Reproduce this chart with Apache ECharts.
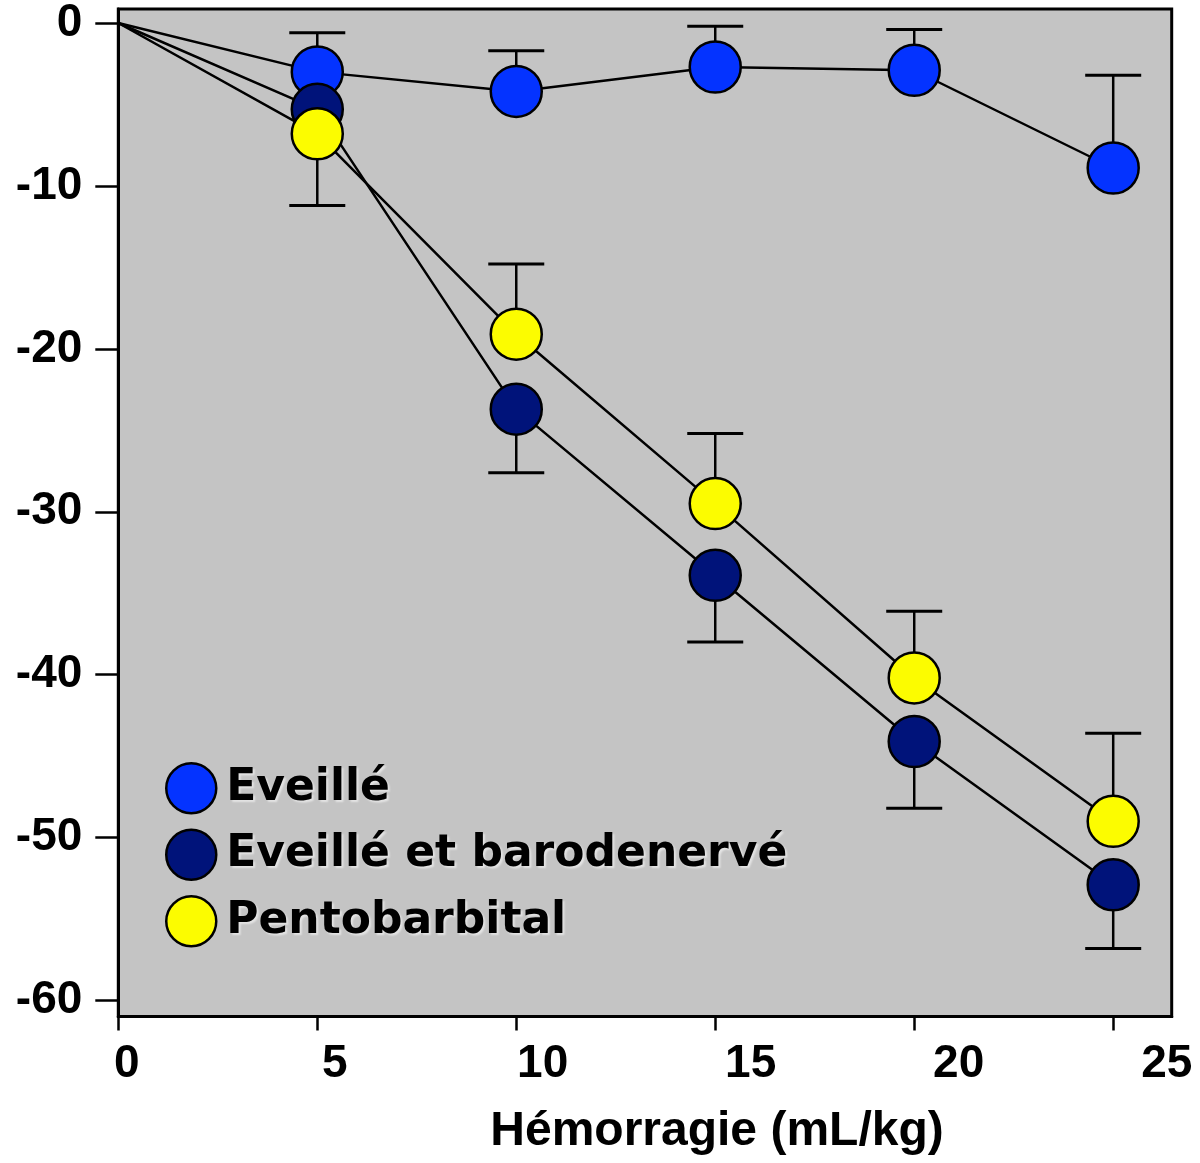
<!DOCTYPE html>
<html>
<head>
<meta charset="utf-8">
<title>Hémorragie</title>
<script src="https://cdn.jsdelivr.net/npm/echarts@6/dist/echarts.min.js"></script>
<style>
  html, body { margin: 0; padding: 0; background: #fff; }
  #chart { width: 1200px; height: 1163px; }
</style>
</head>
<body>
<div id="chart"></div>
<script>
// hemorrhage volume (mL/kg), first point is the common origin
const doses = [0, 5, 10, 15, 20, 25];
const xTicks = [0, 5, 10, 15, 20, 25];
const yTicks = [0, -10, -20, -30, -40, -50, -60];

const seriesNames = ['Eveillé', 'Eveillé et barodenervé', 'Pentobarbital'];

const eveille = [0, -3.0, -4.2, -2.7, -2.9, -8.9];
const eveilleErr = [null, 2.4, 2.5, 2.5, 2.5, 5.7];

const baro = [0, -5.3, -23.7, -33.9, -44.1, -52.9];
const baroErr = [null, 5.9, 3.9, 4.1, 4.1, 3.9];

const pento = [0, -6.8, -19.1, -29.5, -40.2, -49.0];
const pentoErr = [null, null, 4.3, 4.3, 4.1, 5.4];

const colors = ['#0433ff', '#00137a', '#fcfc00'];
const font = '"Liberation Sans", Arial, sans-serif';

const chart = echarts.init(document.getElementById('chart'));

const lineData = values =>
  values.map((v, i) => (i === 0
    ? { value: [doses[i], v], symbol: 'none' }
    : [doses[i], v]));

// dir: 1 = bar drawn upward, -1 = downward
const errData = (values, errs, dir) => {
  const out = [];
  values.forEach((v, i) => {
    if (errs[i] != null) out.push([doses[i], v, v + dir * errs[i]]);
  });
  return out;
};

const renderErrorBar = (params, api) => {
  const p0 = api.coord([api.value(0), api.value(1)]);
  const p1 = api.coord([api.value(0), api.value(2)]);
  const half = 28;
  return {
    type: 'group',
    children: [
      {
        type: 'line',
        shape: { x1: p0[0], y1: p0[1], x2: p1[0], y2: p1[1] },
        style: { stroke: '#000', lineWidth: 2.5 },
      },
      {
        type: 'line',
        shape: { x1: p1[0] - half, y1: p1[1], x2: p1[0] + half, y2: p1[1] },
        style: { stroke: '#000', lineWidth: 3 },
      },
    ],
  };
};

const lineSeries = (name, values, color) => ({
  name,
  type: 'line',
  z: 3,
  data: lineData(values),
  symbol: 'circle',
  symbolSize: 51,
  lineStyle: { color: '#000', width: 2.5 },
  itemStyle: { color, borderColor: '#000', borderWidth: 2.5 },
  emphasis: { disabled: true },
});

const errSeries = data => ({
  type: 'custom',
  z: 2,
  data,
  encode: { x: 0, y: 1 },
  renderItem: renderErrorBar,
  silent: true,
});

chart.setOption({
  animation: false,
  grid: {
    left: 118.3,
    right: 28.3,
    top: 7.5,
    bottom: 146.5,
    show: true,
    backgroundColor: '#c4c4c4',
    borderColor: '#000',
    borderWidth: 3,
  },
  legend: {
    data: seriesNames,
    orient: 'vertical',
    left: 160,
    top: 757,
    icon: 'circle',
    itemWidth: 52,
    itemHeight: 50,
    itemGap: 14,
    itemStyle: { borderColor: '#000', borderWidth: 2.5 },
    selectedMode: false,
    textStyle: {
      fontFamily: '"DejaVu Sans", sans-serif',
      fontWeight: 'bold',
      fontSize: 44,
      lineHeight: 48,
      color: '#000',
      padding: [0, 0, 0, 4],
      textShadowColor: 'rgba(255,255,255,0.55)',
      textShadowBlur: 2,
      textShadowOffsetX: 2,
      textShadowOffsetY: 2,
    },
  },
  xAxis: [
    {
      type: 'value',
      position: 'bottom',
      min: 0,
      max: 26.47,
      name: 'Hémorragie (mL/kg)',
      nameLocation: 'middle',
      nameGap: 91,
      nameTextStyle: {
        fontFamily: font,
        fontWeight: 'bold',
        fontSize: 48,
        color: '#000',
        padding: [0, 0, 0, 144],
      },
      axisLine: { show: true, onZero: false, lineStyle: { color: '#000', width: 3 } },
      axisTick: {
        show: true,
        customValues: xTicks,
        length: 14,
        lineStyle: { color: '#000', width: 2.5 },
      },
      axisLabel: { show: false },
      splitLine: { show: false },
    },
    {
      // carries only the tick labels, which sit a little right of the ticks
      type: 'value',
      position: 'bottom',
      min: -0.202,
      max: 25.12,
      axisLine: { show: false, onZero: false },
      axisTick: { show: false },
      splitLine: { show: false },
      axisLabel: {
        customValues: xTicks,
        margin: 25,
        fontFamily: font,
        fontWeight: 'bold',
        fontSize: 46,
        color: '#000',
      },
    },
  ],
  yAxis: {
    type: 'value',
    min: -60.98,
    max: 0.852,
    axisLine: { show: true, onZero: false, lineStyle: { color: '#000', width: 3 } },
    axisTick: {
      show: true,
      customValues: yTicks,
      length: 23,
      lineStyle: { color: '#000', width: 2.5 },
    },
    axisLabel: {
      customValues: yTicks,
      margin: 36,
      fontFamily: font,
      fontWeight: 'bold',
      fontSize: 46,
      color: '#000',
    },
    splitLine: { show: false },
  },
  series: [
    errSeries(errData(eveille, eveilleErr, 1)),
    errSeries(errData(baro, baroErr, -1)),
    errSeries(errData(pento, pentoErr, 1)),
    lineSeries(seriesNames[0], eveille, colors[0]),
    lineSeries(seriesNames[1], baro, colors[1]),
    lineSeries(seriesNames[2], pento, colors[2]),
  ],
});
</script>
</body>
</html>
